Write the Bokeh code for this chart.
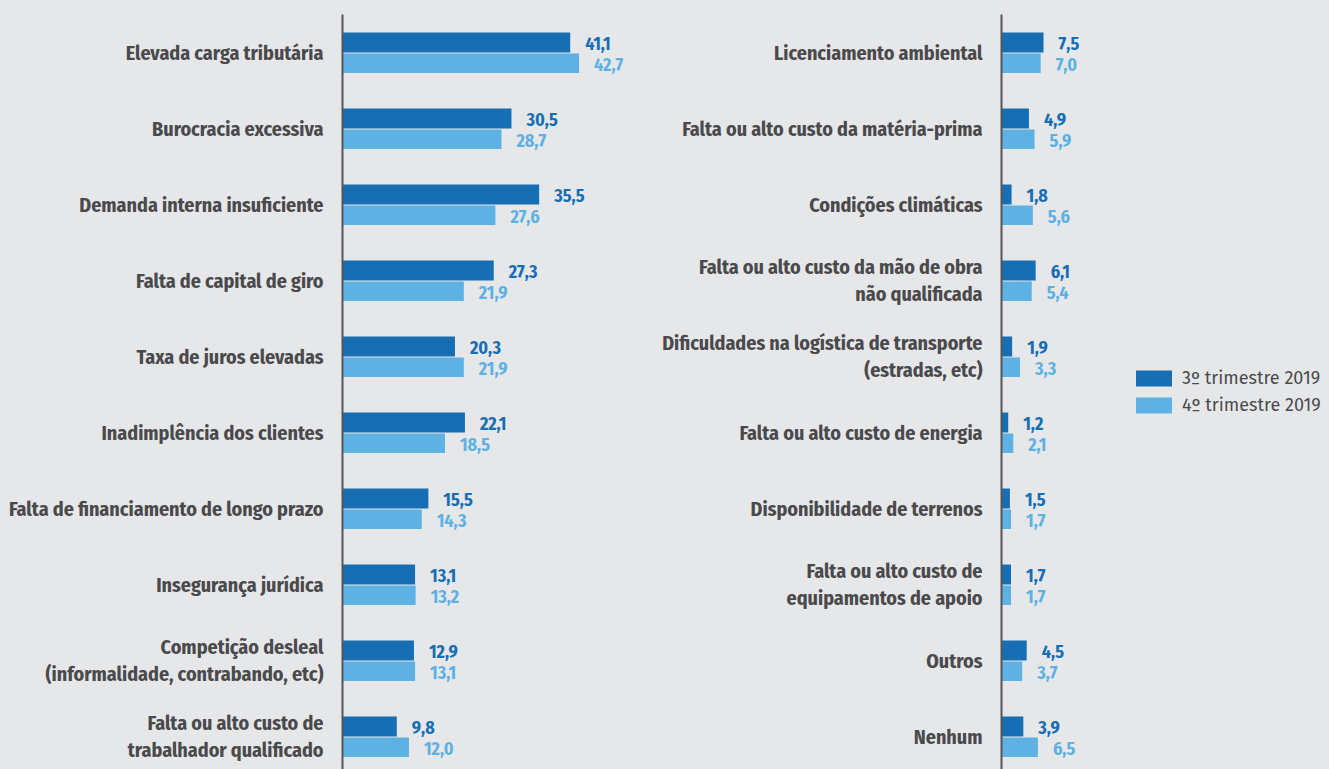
from bokeh.plotting import figure
from bokeh.models import Range1d, FixedTicker, ColumnDataSource
from bokeh.layouts import row
from bokeh.embed import file_html
from bokeh.resources import INLINE
from bokeh.core.properties import value

left_cats = ["Elevada carga tributária", "Burocracia excessiva", "Demanda interna insuficiente",
             "Falta de capital de giro", "Taxa de juros elevadas", "Inadimplência dos clientes",
             "Falta de financiamento de longo prazo", "Insegurança jurídica",
             "Competição desleal\n(informalidade, contrabando, etc)",
             "Falta ou alto custo de\ntrabalhador qualificado"]
left_q3 = [41.1, 30.5, 35.5, 27.3, 20.3, 22.1, 15.5, 13.1, 12.9, 9.8]
left_q4 = [42.7, 28.7, 27.6, 21.9, 21.9, 18.5, 14.3, 13.2, 13.1, 12.0]

right_cats = ["Licenciamento ambiental", "Falta ou alto custo da matéria-prima", "Condições climáticas",
              "Falta ou alto custo da mão de obra\nnão qualificada",
              "Dificuldades na logística de transporte\n(estradas, etc)",
              "Falta ou alto custo de energia", "Disponibilidade de terrenos",
              "Falta ou alto custo de\nequipamentos de apoio", "Outros", "Nenhum"]
right_q3 = [7.5, 4.9, 1.8, 6.1, 1.9, 1.2, 1.5, 1.7, 4.5, 3.9]
right_q4 = [7.0, 5.9, 5.6, 5.4, 3.3, 2.1, 1.7, 1.7, 3.7, 6.5]

series_names = ["3º trimestre 2019", "4º trimestre 2019"]

BG = "#e6e7e9"
DARK = "#166eb4"
LIGHT = "#5eb2e3"
TXT = "#4a4a4c"
LABEL_FONT = "Fira Sans Condensed"
LEGEND_FONT = "Fira Sans"

H = 769
FRAME_TOP = 14
PITCH = 76.0
Y_BOTTOM = -0.5 + (H - FRAME_TOP) / PITCH


def fmt(v):
    return f"{v:.1f}".replace(".", ",")


def make_panel(cats, q3, q4, width, border_left, px_per_unit, legend=False):
    n = len(cats)
    idx = list(range(n))
    xmax = (width - border_left) / px_per_unit
    p = figure(width=width, height=H, output_backend="svg", toolbar_location=None,
               x_range=Range1d(0, xmax), y_range=Range1d(Y_BOTTOM, -0.5),
               min_border_left=border_left, min_border_right=0,
               min_border_top=FRAME_TOP, min_border_bottom=0)
    p.background_fill_color = BG
    p.border_fill_color = BG
    p.outline_line_color = None
    p.grid.visible = False
    p.xaxis.visible = False

    s3 = ColumnDataSource(dict(y=[i - 0.132 for i in idx], v=q3, t=[fmt(v) for v in q3]))
    s4 = ColumnDataSource(dict(y=[i + 0.141 for i in idx], v=q4, t=[fmt(v) for v in q4]))

    kw3 = dict(legend_label=series_names[0]) if legend else {}
    kw4 = dict(legend_label=series_names[1]) if legend else {}
    p.hbar(y="y", right="v", left=0, height=0.263, source=s3, fill_color=DARK, line_color=None, **kw3)
    p.hbar(y="y", right="v", left=0, height=0.257, source=s4, fill_color=LIGHT, line_color=None, **kw4)

    for src, col in ((s3, DARK), (s4, LIGHT)):
        p.text(x="v", y="y", text="t", source=src, x_offset=15, y_offset=1,
               text_align="left", text_baseline="middle",
               text_font=value(LABEL_FONT), text_font_style="bold",
               text_font_size="18px", text_color=col)

    ax = p.yaxis[0]
    ax.ticker = FixedTicker(ticks=idx)
    ax.major_label_overrides = {i: c for i, c in zip(idx, cats)}
    ax.major_label_text_font = LABEL_FONT
    ax.major_label_text_font_style = "bold"
    ax.major_label_text_font_size = "20px"
    ax.major_label_text_color = TXT
    ax.major_label_text_line_height = 1.15
    ax.major_label_standoff = 19
    ax.major_tick_out = 0
    ax.major_tick_in = 0
    ax.major_tick_line_color = None
    ax.minor_tick_line_color = None
    ax.axis_line_color = "#555557"
    ax.axis_line_width = 2

    if legend:
        lg = p.legend[0]
        lg.location = (130, H - 416)
        lg.glyph_width = 45
        lg.glyph_height = 20
        lg.label_height = 16
        lg.label_standoff = 6
        lg.spacing = 5
        lg.padding = 0
        lg.margin = 0
        lg.border_line_color = None
        lg.background_fill_alpha = 0
        lg.label_text_font = LEGEND_FONT
        lg.label_text_font_size = "18px"
        lg.label_text_color = TXT
    return p


left = make_panel(left_cats, left_q3, left_q4, width=640, border_left=342, px_per_unit=5.54)
right = make_panel(right_cats, right_q3, right_q4, width=689, border_left=361, px_per_unit=5.6, legend=True)

layout = row(left, right)
html = file_html(layout, INLINE)
html = html.replace("</head>", f"<style>html, body {{ background: {BG}; overflow: hidden; }}</style></head>", 1)
open("out.html", "w").write(html)
